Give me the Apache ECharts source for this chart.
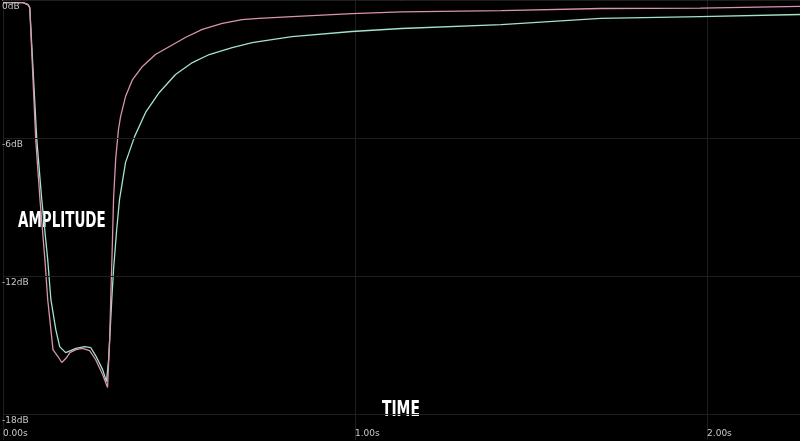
<!DOCTYPE html>
<html><head><meta charset="utf-8">
<script src="https://cdn.jsdelivr.net/npm/echarts@6/dist/echarts.min.js"></script>
<style>html,body{margin:0;padding:0;background:#000}#c{width:800px;height:441px}</style>
</head><body><div id="c"></div>
<script>
// time (s), amplitude (dB)
const pinkSeries = [[0,-0.11],[0.057,-0.11],[0.071,-0.20],[0.076,-0.33],[0.093,-6.07],[0.105,-8.67],[0.119,-11.28],[0.127,-13.02],[0.142,-15.20],[0.156,-15.50],[0.167,-15.76],[0.181,-15.54],[0.190,-15.33],[0.207,-15.20],[0.226,-15.15],[0.246,-15.24],[0.263,-15.63],[0.283,-16.28],[0.297,-16.85],[0.303,-14.76],[0.306,-13.02],[0.311,-10.41],[0.314,-8.67],[0.320,-6.93],[0.328,-5.63],[0.334,-5.07],[0.348,-4.20],[0.368,-3.46],[0.396,-2.89],[0.433,-2.37],[0.473,-2.02],[0.518,-1.63],[0.566,-1.28],[0.623,-1.02],[0.679,-0.85],[0.727,-0.80],[0.821,-0.72],[0.991,-0.59],[1.132,-0.52],[1.415,-0.46],[1.698,-0.37],[1.981,-0.35],[2.264,-0.28]];
const greenSeries = [[0,-0.11],[0.057,-0.11],[0.071,-0.20],[0.076,-0.33],[0.096,-6.07],[0.110,-8.67],[0.127,-11.28],[0.136,-13.02],[0.150,-14.33],[0.161,-15.07],[0.178,-15.33],[0.192,-15.24],[0.207,-15.15],[0.232,-15.07],[0.249,-15.11],[0.266,-15.54],[0.283,-16.07],[0.294,-16.59],[0.300,-15.63],[0.309,-13.02],[0.314,-11.72],[0.323,-9.98],[0.331,-8.67],[0.348,-7.07],[0.374,-5.93],[0.405,-4.89],[0.444,-4.02],[0.490,-3.24],[0.538,-2.72],[0.586,-2.37],[0.651,-2.07],[0.708,-1.85],[0.764,-1.72],[0.821,-1.59],[0.991,-1.37],[1.132,-1.24],[1.415,-1.07],[1.698,-0.80],[1.981,-0.72],[2.264,-0.63]];
const dbTicks = [0, -6, -12, -18];
const timeRange = [0, 2.264];
const dbRange = [-19.13, 0];
const yTitle = 'AMPLITUDE';
const xTitle = 'TIME';

const chart = echarts.init(document.getElementById('c'), null, {renderer:'canvas'});
const gridLineColor = '#1f1f1f';
const titleFont = 'bold 22px "Liberation Sans Narrow", "DejaVu Sans Condensed", sans-serif';
chart.setOption({
  backgroundColor: '#000',
  animation: false,
  grid: {left: 0, right: 0, top: 0, bottom: 1, containLabel: false},
  xAxis: [{
    type: 'value', min: timeRange[0], max: timeRange[1], interval: 1,
    axisLine: {show: true, lineStyle: {color: '#8c8c8c', width: 2}},
    axisTick: {show: false},
    splitLine: {show: true, lineStyle: {color: gridLineColor, width: 1}},
    axisLabel: {inside: true, align: 'left', verticalAlign: 'bottom', margin: 2, showMaxLabel: false,
      color: '#c8c8c8', fontSize: 9, fontFamily: 'DejaVu Sans',
      formatter: v => v.toFixed(2) + 's'}
  }, {
    type: 'value', position: 'top', min: timeRange[0], max: timeRange[1],
    axisLine: {show: true, lineStyle: {color: '#6e6e6e', width: 2}},
    axisTick: {show: false}, axisLabel: {show: false}, splitLine: {show: false}
  }],
  yAxis: {
    type: 'value', min: dbRange[0], max: dbRange[1],
    axisLine: {show: false}, axisTick: {show: false}, axisLabel: {show: false}, splitLine: {show: false}
  },
  series: [{
    type: 'line', data: greenSeries, showSymbol: false, smooth: false,
    lineStyle: {color: '#a3e3c6', width: 1.3},
    markLine: {
      silent: true, symbol: 'none',
      lineStyle: {color: gridLineColor, width: 1, type: 'solid'},
      label: {position: 'insideStartBottom', distance: [-1, 2], color: '#c8c8c8', fontSize: 9, fontFamily: 'DejaVu Sans',
        formatter: p => p.value + 'dB'},
      data: dbTicks.map(v => ({yAxis: v}))
    }
  }, {
    type: 'line', data: pinkSeries, showSymbol: false, smooth: false,
    lineStyle: {color: '#d893b2', width: 1.3}
  }],
  graphic: [{
    type: 'text', left: 18, top: 210, scaleX: 0.68,
    style: {text: yTitle, fill: '#fff', font: titleFont}
  }, {
    type: 'text', left: 382, top: 399, scaleX: 0.7,
    style: {text: xTitle, fill: '#fff', font: titleFont}
  }]
});
</script></body></html>
